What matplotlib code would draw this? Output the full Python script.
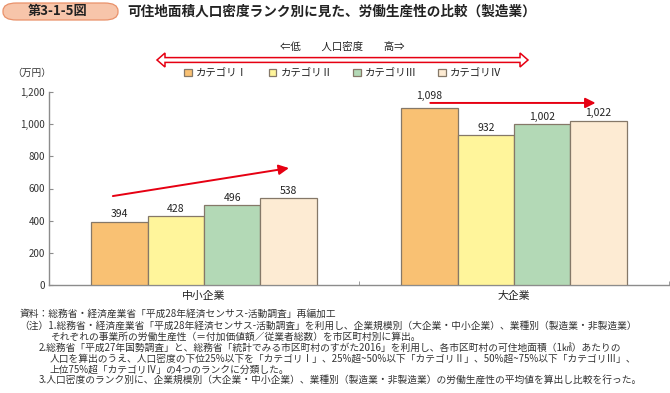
import matplotlib
matplotlib.use("Agg")
import matplotlib.pyplot as plt
from matplotlib.patches import FancyBboxPatch, Polygon
import numpy as np

plt.rcParams['font.family'] = ['Noto Sans CJK JP', 'DejaVu Sans']

# ---- data ----
groups = ["中小企業", "大企業"]
series_names = ["カテゴリⅠ", "カテゴリⅡ", "カテゴリⅢ", "カテゴリⅣ"]
cat1 = [394, 1098]
cat2 = [428, 932]
cat3 = [496, 1002]
cat4 = [538, 1022]
yticks = [0, 200, 400, 600, 800, 1000, 1200]
ytick_labels = ["0", "200", "400", "600", "800", "1,000", "1,200"]
colors = ["#f9c173", "#fff59b", "#b3d9b6", "#fdebd3"]

title_box = "第3-1-5図"
title = "可住地面積人口密度ランク別に見た、労働生産性の比較（製造業）"
unit = "（万円）"
density_label = "⇐低　　人口密度　　高⇒"
notes = [
    (20, 314, "資料：総務省・経済産業省「平成28年経済センサス-活動調査」再編加工"),
    (19, 325.5, "（注）1.総務省・経済産業省「平成28年経済センサス-活動調査」を利用し、企業規模別（大企業・中小企業）、業種別（製造業・非製造業）"),
    (50, 336.5, "それぞれの事業所の労働生産性（＝付加価値額／従業者総数）を市区町村別に算出。"),
    (39, 347.5, "2.総務省「平成27年国勢調査」と、総務省「統計でみる市区町村のすがた2016」を利用し、各市区町村の可住地面積（1㎢）あたりの"),
    (50, 358.5, "人口を算出のうえ、人口密度の下位25%以下を「カテゴリⅠ」、25%超~50%以下「カテゴリⅡ」、50%超~75%以下「カテゴリⅢ」、"),
    (50, 369.3, "上位75%超「カテゴリⅣ」の4つのランクに分類した。"),
    (39, 380, "3.人口密度のランク別に、企業規模別（大企業・中小企業）、業種別（製造業・非製造業）の労働生産性の平均値を算出し比較を行った。"),
]

W, H = 670, 393
fig = plt.figure(figsize=(W / 100, H / 100), dpi=100)

def fx(px):
    return px / W

def fy(py):
    return 1 - py / H

ax = fig.add_axes([fx(49), fy(285), fx(669) - fx(49), fy(92) - fy(285)])

series = [cat1, cat2, cat3, cat4]
x = np.arange(len(groups))
bw = 0.182
offsets = [-0.273, -0.091, 0.091, 0.273]
bars = []
for si, (vals, off, c, name) in enumerate(zip(series, offsets, colors, series_names)):
    b = ax.bar(x + off, vals, width=bw, color=c, edgecolor="#857868", linewidth=0.9,
               label=name, zorder=3)
    bars.append(b)
    for xi, v in zip(x, vals):
        # the first large-company label sits higher to clear the trend arrow
        lift = 44 if (si == 0 and xi == 1) else 14
        ax.text(xi + off, v + lift, f"{v:,}", ha="center", va="bottom",
                fontsize=7.5, color="#222222")

ax.set_xlim(-0.5, 1.5)
ax.set_ylim(0, 1200)
ax.set_yticks(yticks)
ax.set_yticklabels(ytick_labels, fontsize=7, color="#333333")
ax.set_xticks(x)
ax.set_xticklabels(groups, fontsize=7.8, color="#222222")
ax.tick_params(axis="x", length=0, pad=4)
ax.set_xticks([0.5, 1.5], minor=True)
ax.tick_params(axis="x", which="minor", direction="in", length=3, color="#8c8c8c")
ax.tick_params(axis="y", direction="in", length=3, color="#8c8c8c", pad=3)
for s in ["top", "right"]:
    ax.spines[s].set_visible(False)
for s in ["left", "bottom"]:
    ax.spines[s].set_color("#8c8c8c")
    ax.spines[s].set_linewidth(1.0)

# trend arrows
red = "#e60012"
ax.annotate("", xy=(0.274, 727), xytext=(-0.294, 553),
            arrowprops=dict(arrowstyle="-|>,head_length=0.6,head_width=0.3",
                            color=red, lw=1.4, shrinkA=0, shrinkB=0), zorder=5)
ax.annotate("", xy=(1.263, 1132), xytext=(0.73, 1132),
            arrowprops=dict(arrowstyle="-|>,head_length=0.6,head_width=0.3",
                            color=red, lw=1.4, shrinkA=0, shrinkB=0), zorder=5)

# legend
leg = fig.legend(handles=[b[0] for b in bars], labels=series_names, loc="center",
                 bbox_to_anchor=(fx(343), fy(73)), ncol=4, frameon=False,
                 fontsize=7.5, handlelength=0.75, handleheight=0.75,
                 handletextpad=0.4, columnspacing=2.0)
for t in leg.get_texts():
    t.set_color("#222222")

# density label and double arrow
fig.text(fx(342), fy(47), density_label, ha="center", va="center", fontsize=7.5,
         color="#222222")
L, R, yc = 157, 528, 60
hs, hh, hl = 2.4, 7, 8
pts = [(L, yc), (L + hl, yc - hh), (L + hl, yc - hs), (R - hl, yc - hs), (R - hl, yc - hh),
       (R, yc), (R - hl, yc + hh), (R - hl, yc + hs), (L + hl, yc + hs), (L + hl, yc + hh)]
poly = Polygon([(fx(px), fy(py)) for px, py in pts], closed=True, transform=fig.transFigure,
               facecolor="white", edgecolor=red, linewidth=1.1)
fig.patches.append(poly)

# unit
fig.text(fx(12), fy(73), unit, ha="left", va="center", fontsize=7, color="#333333")

# title box
box = FancyBboxPatch((fx(3), fy(20)), fx(118) - fx(3), fy(3) - fy(20),
                     boxstyle="round,pad=0,rounding_size=0.02", transform=fig.transFigure,
                     facecolor="#f7c5aa", edgecolor="#e9916a", linewidth=0.9)
fig.patches.append(box)
fig.text(fx(58), fy(11.5), title_box, ha="center", va="center", fontsize=9.5,
         fontweight="bold", color="#222222")
fig.text(fx(127), fy(11.5), title, ha="left", va="center", fontsize=9.8,
         fontweight="bold", color="#222222")

# notes: fit font size so that no note line passes the right edge seen in the reference
note_texts = [fig.text(fx(px), fy(py), s, ha="left", va="center", fontsize=7.0,
                       color="#333333") for px, py, s in notes]
renderer = fig.canvas.get_renderer()
fs = 7.0
for (px, py, s), t in zip(notes, note_texts):
    w = t.get_window_extent(renderer).width
    fs = min(fs, 7.0 * (665 - px) / w)
for t in note_texts:
    t.set_fontsize(fs)

fig.savefig("out.png", dpi=100)
